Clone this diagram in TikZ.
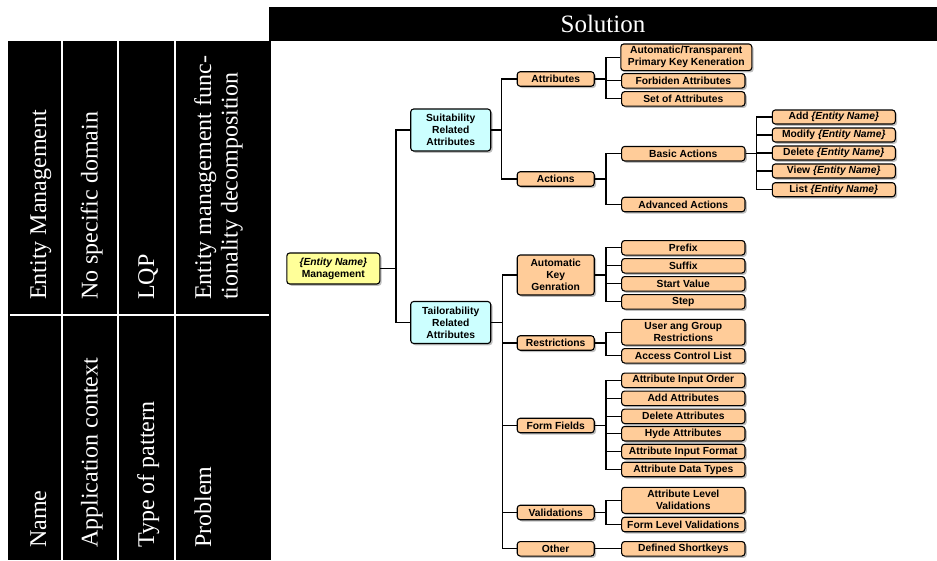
\documentclass[tikz,border=0pt]{standalone}
\usepackage{fontspec}
\setmainfont{Liberation Serif}
\newfontfamily\boxfont{Liberation Sans}
\usetikzlibrary{shadows}
\definecolor{peach}{HTML}{FFCC99}
\definecolor{lcyan}{HTML}{CCFFFF}
\definecolor{lyel}{HTML}{FFFF99}
\tikzset{
  tbl/.style={rotate=90, anchor=base west, inner sep=0pt, text=white, font=\fontsize{24}{28}\selectfont},
  bx/.style={draw=black, line width=1.1pt, rounded corners=3pt, inner sep=0pt, align=center,
     font=\boxfont\bfseries\fontsize{10.3}{12}\selectfont,
     drop shadow={shadow xshift=1.8pt, shadow yshift=-1.8pt, fill=black!50, opacity=0.5}},
  rootbox/.style={bx, fill=lyel, minimum width=93pt, minimum height=31pt},
  l1box/.style={bx, fill=lcyan, minimum width=80pt, minimum height=42pt},
  l2box/.style={bx, fill=peach, minimum width=77pt, minimum height=14.5pt},
  l3box/.style={bx, fill=peach, minimum width=123.3pt, minimum height=14.5pt},
  l4box/.style={bx, fill=peach, minimum width=123pt, minimum height=14pt},
  conn/.style={draw=black, line width=1.1pt}
}
\begin{document}
\begin{tikzpicture}[x=1pt,y=-1pt]
\useasboundingbox (0,0) rectangle (937,560);
% title bar
\fill[black] (269,7) rectangle (937,41);
\node[text=white, inner sep=0pt, font=\fontsize{25}{30}\selectfont] (sol) at (603,24) {Solution};
% left table
\fill[black] (8,41) rectangle (271,560);
\draw[white, line width=2pt] (62,41) -- (62,560) (118,41) -- (118,560) (175,41) -- (175,560);
\draw[white, line width=2pt] (10,315) -- (269,315);
\node[tbl] (t1) at (46,300) {Entity Management};
\node[tbl] (t2) at (97.6,300) {No specific domain};
\node[tbl] (t3) at (154.2,300) {LQP};
\node[tbl] (t4a) at (211,300) {Entity management func-};
\node[tbl] (t4b) at (237.6,300) {tionality decomposition};
\node[tbl] (b1) at (46,548) {Name};
\node[tbl] (b2) at (97.6,548) {Application context};
\node[tbl] (b3) at (154.2,548) {Type of pattern};
\node[tbl] (b4) at (211,548) {Problem};
% bus coordinates
\coordinate (x0) at (396,0);
\coordinate (x1) at (501.5,0);
\coordinate (x1b) at (502.7,0);
\coordinate (x2) at (606,0);
\coordinate (x3) at (756.7,0);
% nodes
\node[rootbox] (root) at (333.3,268.5) {\textit{\{Entity Name\}}\\Management};
\node[l1box] (suit) at (450.7,130) {Suitability\\Related\\Attributes};
\node[l1box] (tail) at (450.7,322.5) {Tailorability\\Related\\Attributes};
\node[l2box] (attr) at (555.7,79) {Attributes};
\node[l2box] (act) at (555.7,179) {Actions};
\node[l2box, minimum height=40pt] (akg) at (555.7,275) {Automatic\\Key\\Genration};
\node[l2box] (restr) at (555.7,343) {Restrictions};
\node[l2box] (ff) at (555.7,425.5) {Form Fields};
\node[l2box] (val) at (555.7,512.5) {Validations};
\node[l2box] (oth) at (555.7,548.8) {Other};
\node[l3box, minimum width=131pt, minimum height=26.7pt] (aut) at (686.3,57.3) {Automatic/Transparent\\Primary Key Keneration};
\node[l3box] (forb) at (683.3,80.8) {Forbiden Attributes};
\node[l3box] (soa) at (683.3,98.9) {Set of Attributes};
\node[l3box] (bas) at (683.3,153.7) {Basic Actions};
\node[l3box] (adv) at (683.3,204.5) {Advanced Actions};
\node[l3box] (pre) at (683.3,247.8) {Prefix};
\node[l3box] (suf) at (683.3,265.8) {Suffix};
\node[l3box] (stv) at (683.3,283.8) {Start Value};
\node[l3box] (stp) at (683.3,301.8) {Step};
\node[l3box, minimum height=25.7pt] (ugr) at (683.3,332.2) {User ang Group\\Restrictions};
\node[l3box] (acl) at (683.3,355.8) {Access Control List};
\node[l3box] (aio) at (683.3,380.3) {Attribute Input Order};
\node[l3box] (ada) at (683.3,398.3) {Add Attributes};
\node[l3box] (dea) at (683.3,416.3) {Delete Attributes};
\node[l3box] (hya) at (683.3,433.7) {Hyde Attributes};
\node[l3box] (aif) at (683.3,451.5) {Attribute Input Format};
\node[l3box] (adt) at (683.3,469.5) {Attribute Data Types};
\node[l3box, minimum height=26pt] (alv) at (683.3,500.3) {Attribute Level\\Validations};
\node[l3box] (flv) at (683.3,524.5) {Form Level Validations};
\node[l3box] (dsk) at (683.3,548.8) {Defined Shortkeys};
\node[l4box] (add) at (833.8,117) {Add \textit{\{Entity Name\}}};
\node[l4box] (mod) at (833.8,135) {Modify \textit{\{Entity Name\}}};
\node[l4box] (del) at (833.8,153) {Delete \textit{\{Entity Name\}}};
\node[l4box] (vie) at (833.8,171) {View \textit{\{Entity Name\}}};
\node[l4box] (lis) at (833.8,189.7) {List \textit{\{Entity Name\}}};
% connectors
\foreach \c in {suit,tail} \draw[conn] (root.east) -- (root.east -| x0) |- (\c.west);
\foreach \c in {attr,act} \draw[conn] (suit.east) -- (suit.east -| x1) |- (\c.west);
\foreach \c in {akg,restr,ff,val,oth} \draw[conn] (tail.east) -- (tail.east -| x1b) |- (\c.west);
\foreach \c in {aut,forb,soa} \draw[conn] (attr.east) -- (attr.east -| x2) |- (\c.west);
\foreach \c in {bas,adv} \draw[conn] (act.east) -- (act.east -| x2) |- (\c.west);
\foreach \c in {pre,suf,stv,stp} \draw[conn] (akg.east) -- (akg.east -| x2) |- (\c.west);
\foreach \c in {ugr,acl} \draw[conn] (restr.east) -- (restr.east -| x2) |- (\c.west);
\foreach \c in {aio,ada,dea,hya,aif,adt} \draw[conn] (ff.east) -- (ff.east -| x2) |- (\c.west);
\foreach \c in {alv,flv} \draw[conn] (val.east) -- (val.east -| x2) |- (\c.west);
\draw[conn] (oth.east) -- (dsk.west);
\foreach \c in {add,mod,del,vie,lis} \draw[conn] (bas.east) -- (bas.east -| x3) |- (\c.west);
\end{tikzpicture}
\end{document}
